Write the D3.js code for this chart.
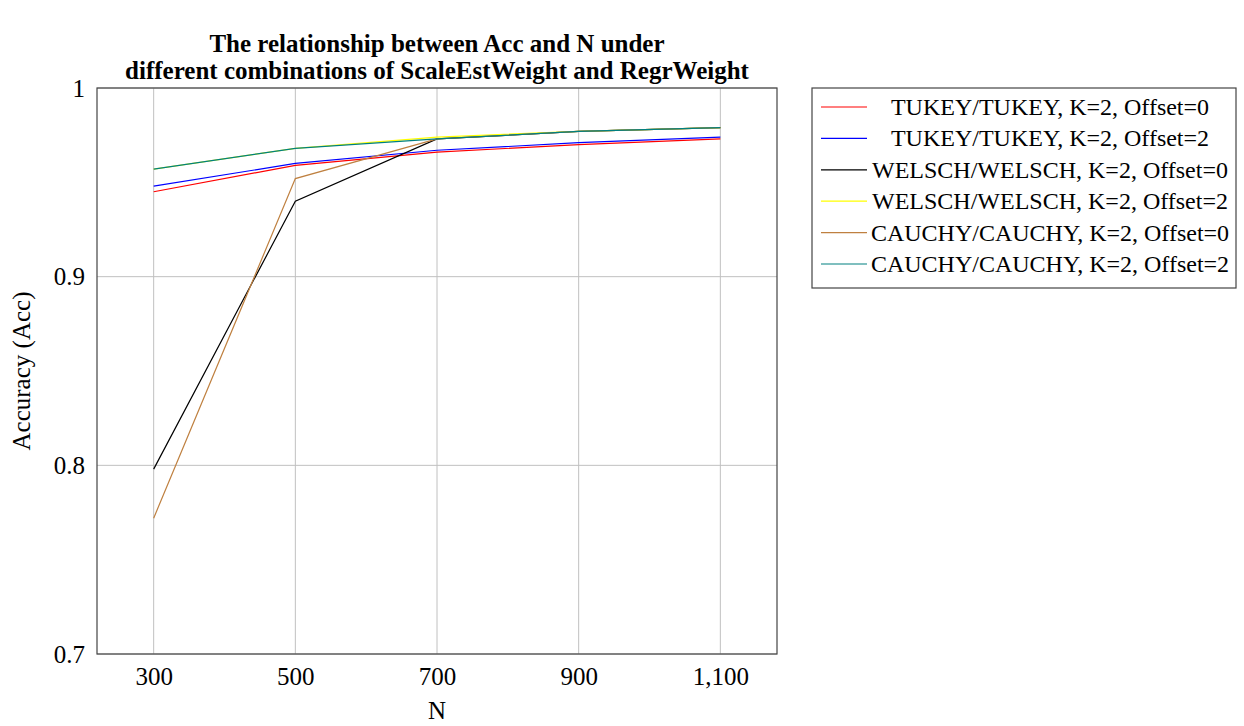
<!DOCTYPE html>
<html>
<head>
<meta charset="utf-8">
<script src="https://cdn.jsdelivr.net/npm/d3@7"></script>
<style>
body { margin: 0; background: #fff; }
text { font-family: "Liberation Serif", "DejaVu Serif", serif; }
</style>
</head>
<body>
<div id="chart"></div>
<script>
// data
var nValues = [300, 500, 700, 900, 1100];
var seriesNames = [
    "TUKEY/TUKEY, K=2, Offset=0",
    "TUKEY/TUKEY, K=2, Offset=2",
    "WELSCH/WELSCH, K=2, Offset=0",
    "WELSCH/WELSCH, K=2, Offset=2",
    "CAUCHY/CAUCHY, K=2, Offset=0",
    "CAUCHY/CAUCHY, K=2, Offset=2"
];
var tukey0 = [0.945, 0.959, 0.966, 0.970, 0.973];
var tukey2 = [0.948, 0.960, 0.967, 0.971, 0.974];
var welsch0 = [0.798, 0.940, 0.973, 0.977, 0.979];
var welsch2 = [0.957, 0.968, 0.974, 0.977, 0.979];
var cauchy0 = [0.772, 0.952, 0.973, 0.977, 0.979];
var cauchy2 = [0.957, 0.968, 0.973, 0.977, 0.979];
var colors = ["#ff0000", "#0000ff", "#000000", "#ffff00", "#bf8040", "#008080"];
var yTicks = [0.7, 0.8, 0.9, 1];

var allSeries = [tukey0, tukey2, welsch0, welsch2, cauchy0, cauchy2];

var width = 1244, height = 726;
var svg = d3.select("#chart").append("svg")
    .attr("width", width)
    .attr("height", height);

var x = d3.scaleLinear().domain([220, 1180]).range([97, 777]);
var y = d3.scaleLinear().domain([0.7, 1]).range([654, 88]);

// grid
svg.append("g").selectAll("line.gx")
    .data(nValues).enter().append("line")
    .attr("x1", d => x(d)).attr("x2", d => x(d))
    .attr("y1", y(0.7)).attr("y2", y(1))
    .attr("stroke", "#c0c0c0").attr("stroke-width", 1);
svg.append("g").selectAll("line.gy")
    .data(yTicks).enter().append("line")
    .attr("x1", x(220)).attr("x2", x(1180))
    .attr("y1", d => y(d)).attr("y2", d => y(d))
    .attr("stroke", "#c0c0c0").attr("stroke-width", 1);

// axes
var xAxis = d3.axisBottom(x).tickValues(nValues).tickFormat(d3.format(",")).tickSize(0).tickPadding(13);
var yAxis = d3.axisLeft(y).tickValues(yTicks).tickFormat(d => d === 1 ? "1" : d3.format(".1f")(d)).tickSize(0).tickPadding(12);

var gx = svg.append("g").attr("transform", "translate(0," + y(0.7) + ")").call(xAxis);
var gy = svg.append("g").attr("transform", "translate(" + x(220) + ",0)").call(yAxis);
[gx, gy].forEach(function(g) {
    g.attr("font-size", null).attr("font-family", null);
    g.select(".domain").remove();
    g.selectAll("text").attr("font-size", 25).attr("fill", "#000");
});

// lines
var line = d3.line()
    .x((d, i) => x(nValues[i]))
    .y(d => y(d));

svg.append("g").selectAll("path")
    .data(allSeries).enter().append("path")
    .attr("d", line)
    .attr("fill", "none")
    .attr("stroke", (d, i) => colors[i])
    .attr("stroke-width", 1.2);

// frame
svg.append("rect")
    .attr("x", x(220)).attr("y", y(1))
    .attr("width", x(1180) - x(220)).attr("height", y(0.7) - y(1))
    .attr("fill", "none").attr("stroke", "#444").attr("stroke-width", 1.2);

// titles
svg.append("text").attr("x", 437).attr("y", 52)
    .attr("text-anchor", "middle").attr("font-size", 25).attr("font-weight", "bold")
    .text("The relationship between Acc and N under");
svg.append("text").attr("x", 437).attr("y", 79)
    .attr("text-anchor", "middle").attr("font-size", 25).attr("font-weight", "bold")
    .text("different combinations of ScaleEstWeight and RegrWeight");

svg.append("text").attr("x", 437).attr("y", 719)
    .attr("text-anchor", "middle").attr("font-size", 25).text("N");
svg.append("text")
    .attr("transform", "translate(30," + ((88 + 654) / 2) + ") rotate(-90)")
    .attr("text-anchor", "middle").attr("font-size", 25).text("Accuracy (Acc)");

// legend
var legend = svg.append("g");
legend.append("rect")
    .attr("x", 812).attr("y", 88).attr("width", 424).attr("height", 200)
    .attr("fill", "#fff").attr("stroke", "#444").attr("stroke-width", 1.2);
var rows = legend.selectAll("g.row")
    .data(seriesNames).enter().append("g")
    .attr("transform", (d, i) => "translate(0," + (107 + i * 31.4) + ")");
rows.append("line")
    .attr("x1", 821).attr("x2", 867).attr("y1", 0).attr("y2", 0)
    .attr("stroke", (d, i) => colors[i]).attr("stroke-width", 1.2);
rows.append("text")
    .attr("x", 1050).attr("y", 8)
    .attr("text-anchor", "middle").attr("font-size", 24)
    .text(d => d);
</script>
</body>
</html>
